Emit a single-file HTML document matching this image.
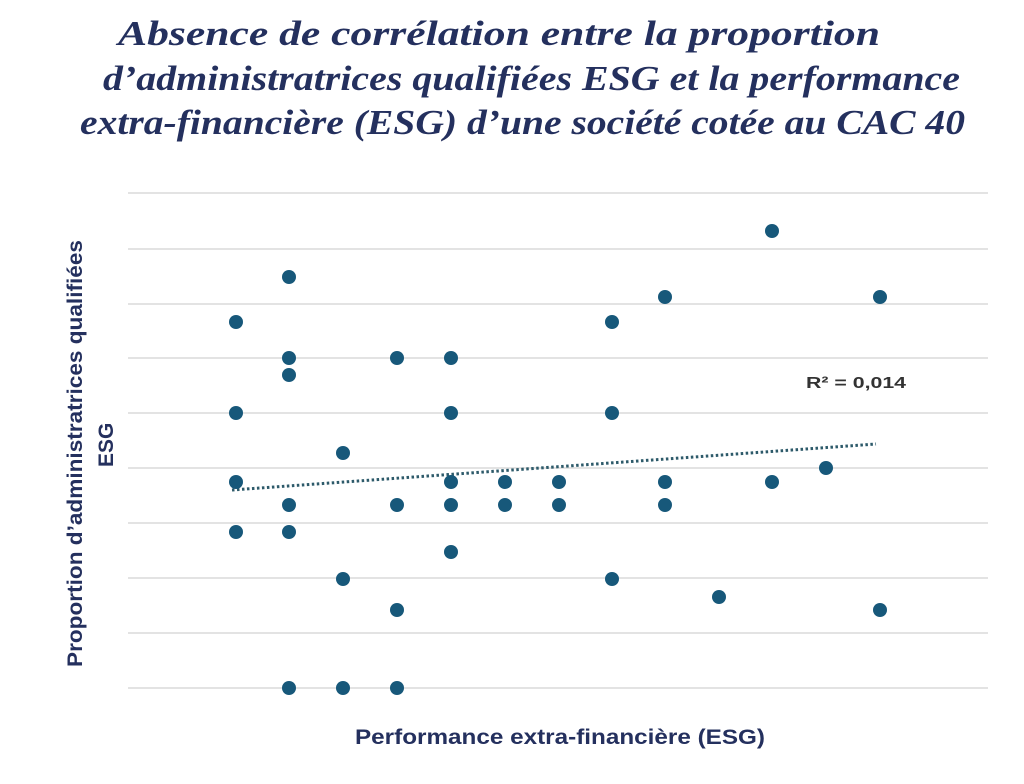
<!DOCTYPE html>
<html><head><meta charset="utf-8"><style>
body{margin:0;background:#fff;width:1024px;height:779px;overflow:hidden}
</style></head><body>
<svg width="1024" height="779" xmlns="http://www.w3.org/2000/svg">
<g font-family="Liberation Serif, serif" font-style="italic" font-weight="bold" font-size="35" fill="#24305e">
<text x="118" y="45" textLength="762" lengthAdjust="spacingAndGlyphs">Absence de corrélation entre la proportion</text>
<text x="103" y="90" textLength="857" lengthAdjust="spacingAndGlyphs">d’administratrices qualifiées ESG et la performance</text>
<text x="80" y="134" textLength="885" lengthAdjust="spacingAndGlyphs">extra-financière (ESG) d’une société cotée au CAC 40</text>
</g>
<g stroke="#e3e3e3" stroke-width="2">
<line x1="128" x2="988" y1="193" y2="193"/><line x1="128" x2="988" y1="249" y2="249"/>
<line x1="128" x2="988" y1="304" y2="304"/><line x1="128" x2="988" y1="358" y2="358"/>
<line x1="128" x2="988" y1="413" y2="413"/><line x1="128" x2="988" y1="468" y2="468"/>
<line x1="128" x2="988" y1="523" y2="523"/><line x1="128" x2="988" y1="578" y2="578"/>
<line x1="128" x2="988" y1="633" y2="633"/><line x1="128" x2="988" y1="688" y2="688"/>
</g>
<line x1="232" y1="490" x2="876" y2="444" stroke="#2d5a6a" stroke-width="3" stroke-dasharray="2.5,2.5"/>
<g fill="#17587a">
<circle cx="236" cy="322" r="7"/><circle cx="289" cy="277" r="7"/><circle cx="289" cy="358" r="7"/><circle cx="289" cy="375" r="7"/>
<circle cx="236" cy="413" r="7"/><circle cx="343" cy="453" r="7"/><circle cx="236" cy="482" r="7"/><circle cx="289" cy="505" r="7"/>
<circle cx="236" cy="532" r="7"/><circle cx="289" cy="532" r="7"/><circle cx="397" cy="358" r="7"/><circle cx="451" cy="358" r="7"/>
<circle cx="451" cy="413" r="7"/><circle cx="451" cy="482" r="7"/><circle cx="451" cy="505" r="7"/><circle cx="397" cy="505" r="7"/>
<circle cx="451" cy="552" r="7"/><circle cx="343" cy="579" r="7"/><circle cx="397" cy="610" r="7"/><circle cx="289" cy="688" r="7"/>
<circle cx="343" cy="688" r="7"/><circle cx="397" cy="688" r="7"/><circle cx="505" cy="482" r="7"/><circle cx="505" cy="505" r="7"/>
<circle cx="559" cy="482" r="7"/><circle cx="559" cy="505" r="7"/><circle cx="612" cy="322" r="7"/><circle cx="612" cy="413" r="7"/>
<circle cx="612" cy="579" r="7"/><circle cx="665" cy="297" r="7"/><circle cx="665" cy="482" r="7"/><circle cx="665" cy="505" r="7"/>
<circle cx="719" cy="597" r="7"/><circle cx="772" cy="231" r="7"/><circle cx="772" cy="482" r="7"/><circle cx="826" cy="468" r="7"/>
<circle cx="880" cy="297" r="7"/><circle cx="880" cy="610" r="7"/>
</g>
<text x="806" y="388" font-family="Liberation Sans, sans-serif" font-weight="bold" font-size="16" fill="#333" textLength="100" lengthAdjust="spacingAndGlyphs">R² = 0,014</text>
<text x="355" y="744" font-family="Liberation Sans, sans-serif" font-weight="bold" font-size="21" fill="#24305e" textLength="410" lengthAdjust="spacingAndGlyphs">Performance extra-financière (ESG)</text>
<g font-family="Liberation Sans, sans-serif" font-weight="bold" font-size="21" fill="#24305e">
<text transform="translate(82,667) rotate(-90)" textLength="427" lengthAdjust="spacingAndGlyphs">Proportion d’administratrices qualifiées</text>
<text transform="translate(113,467) rotate(-90)">ESG</text>
</g>
</svg>
</body></html>
